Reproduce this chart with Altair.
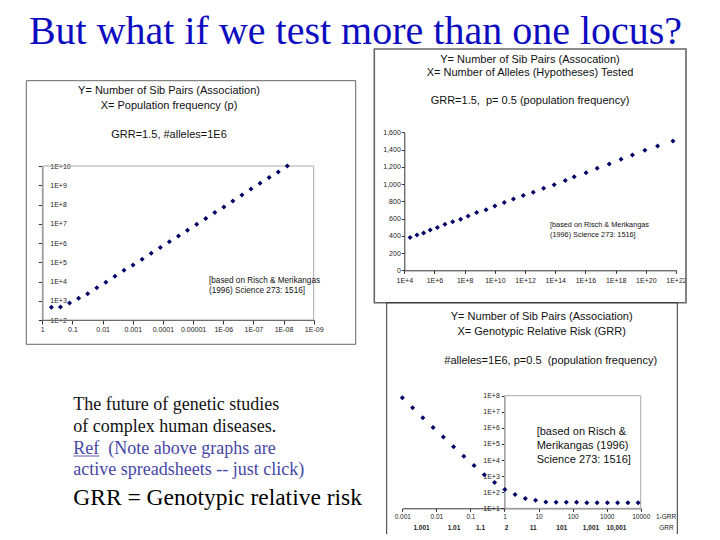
import json
import altair as alt
import pandas as pd

# ---------------- data ----------------
# Chart 1: sib pairs vs population frequency p (GRR=1.5, 1E6 alleles)
c1_p = [0.5, 0.25, 0.125, 0.0625, 0.03125, 0.0156, 0.0078, 0.0039, 0.00195, 0.00098,
        0.00049, 0.000244, 0.000122, 6.1e-5, 3.05e-5, 1.53e-5, 7.6e-6, 3.8e-6, 1.9e-6,
        9.5e-7, 4.8e-7, 2.4e-7, 1.2e-7, 6.0e-8, 3.0e-8, 1.5e-8, 7.5e-9]
c1_pairs = [455, 470, 765, 1340, 2340, 4800, 9100, 18700, 38000, 72000, 142000, 290000,
            590000, 1.17e6, 2.3e6, 4.6e6, 9.3e6, 1.9e7, 3.8e7, 7.5e7, 1.5e8, 3.1e8,
            6.4e8, 1.26e9, 2.5e9, 4.9e9, 1.0e10]
c1_xticks = [1, 0.1, 0.01, 0.001, 0.0001, 0.00001, 1e-6, 1e-7, 1e-8, 1e-9]
c1_xlabels = ["1", "0.1", "0.01", "0.001", "0.0001", "0.00001", "1E-06", "1E-07", "1E-08", "1E-09"]
c1_yticks = [1e2, 1e3, 1e4, 1e5, 1e6, 1e7, 1e8, 1e9, 1e10]
c1_ylabels = ["1E+2", "1E+3", "1E+4", "1E+5", "1E+6", "1E+7", "1E+8", "1E+9", "1E+10"]

# Chart 2: sib pairs vs number of alleles tested (GRR=1.5, p=0.5)
c2_alleles = [2.4e4, 6.9e4, 1.9e5, 5.2e5, 1.55e6, 4.9e6, 1.6e7, 5.4e7, 1.7e8, 6.2e8,
              2.6e9, 1.0e10, 4.2e10, 1.7e11, 7.6e11, 3.5e12, 1.7e13, 8.5e13, 4.6e14,
              1.8e15, 1.1e16, 6.0e16, 3.8e17, 2.3e18, 1.3e19, 8.7e19, 6.0e20, 6.3e21]
c2_pairs = [379, 410, 433, 468, 495, 533, 564, 591, 630, 669, 703, 746, 785, 827, 866,
            904, 951, 993, 1040, 1086, 1132, 1183, 1233, 1287, 1337, 1391, 1442, 1500]
c2_xticks = [1e4, 1e6, 1e8, 1e10, 1e12, 1e14, 1e16, 1e18, 1e20, 1e22]
c2_xlabels = ["1E+4", "1E+6", "1E+8", "1E+10", "1E+12", "1E+14", "1E+16", "1E+18", "1E+20", "1E+22"]
c2_yticks = [0, 200, 400, 600, 800, 1000, 1200, 1400, 1600]
c2_ylabels = ["0", "200", "400", "600", "800", "1,000", "1,200", "1,400", "1,600"]

# Chart 3: sib pairs vs GRR-1 (1E6 alleles, p=0.5)
c3_grr1 = [0.001, 0.002, 0.004, 0.008, 0.016, 0.032, 0.064, 0.128, 0.256, 0.512, 1.024,
           2.048, 4.096, 8.19, 16.4, 32.8, 65.5, 131, 262, 524, 1049, 2097, 4194, 8389]
c3_pairs = [7.5e7, 1.79e7, 4.3e6, 1.07e6, 2.7e5, 6.8e4, 1.7e4, 4500, 1240, 395, 145, 71,
            40, 32, 25, 24, 24, 24, 22, 22, 22, 22, 22, 22]
c3_xticks = [0.001, 0.01, 0.1, 1, 10, 100, 1000, 10000]
c3_xlabels = ["0.001", "0.01", "0.1", "1", "10", "100", "1000", "10000"]
c3_yticks = [1e1, 1e2, 1e3, 1e4, 1e5, 1e6, 1e7, 1e8]
c3_ylabels = ["1E+1", "1E+2", "1E+3", "1E+4", "1E+5", "1E+6", "1E+7", "1E+8"]
c3_grr_labels = ["1.001", "1.01", "1.1", "2", "11", "101", "1,001", "10,001"]
c3_grr_at = [0.00367, 0.033, 0.198, 1.16, 7.0, 47.9, 347, 1950]

# ---------------- layout ----------------
W, H = 704, 526
SANS = "Liberation Sans"
SERIF = "Liberation Serif"
PT = "#000066"
NB = "\u00a0"
one = pd.DataFrame({"k": [0]})


def lab_expr(labels, e0, step):
    return f"{json.dumps(labels)}[round((round(log(datum.value)/LN10) - ({e0}))/({step}))]"


def txt(s, x, y, size=11, font=SANS, color="#111111", align="center",
        baseline="middle", weight="normal", lh=None):
    kw = dict(text=s, font=font, fontSize=size, color=color, align=align,
              baseline=baseline, fontWeight=weight)
    if lh is not None:
        kw["lineHeight"] = lh
    return alt.Chart(one).mark_text(**kw).encode(x=alt.value(x), y=alt.value(y))


def box(x0, y0, x1, y1, color="#555555", w=1):
    return alt.Chart(one).mark_rect(fillOpacity=0, stroke=color, strokeWidth=w).encode(
        x=alt.value(x0), x2=alt.value(x1), y=alt.value(y0), y2=alt.value(y1))


def pts(df, xe, ye):
    return alt.Chart(df).mark_point(shape="diamond", filled=True, size=25,
                                    color=PT, opacity=1).encode(x=xe, y=ye)


AX = dict(title=None, labelOverlap=False, labelBound=False, labelFlush=False)

# ---- chart 1 ----
x1 = alt.X("x:Q", scale=alt.Scale(type="log", domain=[1e-9, 1], range=[305.7, 34.3]),
           axis=alt.Axis(orient="bottom", offset=312 - H, values=c1_xticks,
                         labelExpr=lab_expr(c1_xlabels, 0, -1), tickSize=4,
                         labelPadding=1, **AX))
y1 = alt.Y("y:Q", scale=alt.Scale(type="log", domain=[1e2, 1e10], range=[312, 158]),
           axis=alt.Axis(orient="left", offset=-34.3, values=c1_yticks,
                         labelExpr=lab_expr(c1_ylabels, 2, 1), tickSize=4,
                         labelAlign="left", labelPadding=-11.5, **AX))
df1 = pd.DataFrame({"x": c1_p, "y": c1_pairs})
frame1 = alt.Chart(pd.DataFrame({"x": [1.0], "x2": [1e-9], "y": [1e2], "y2": [1e10]})).mark_rect(
    fillOpacity=0, stroke="#a8a8a8", strokeWidth=1).encode(x=x1, x2="x2:Q", y=y1, y2="y2:Q")
c1 = alt.layer(frame1, pts(df1, x1, y1))

# ---- chart 2 ----
x2 = alt.X("x:Q", scale=alt.Scale(type="log", domain=[1e4, 1e22], range=[396.3, 668]),
           axis=alt.Axis(orient="bottom", offset=262.3 - H, values=c2_xticks,
                         labelExpr=lab_expr(c2_xlabels, 4, 2), tickSize=3,
                         labelPadding=3, **AX))
y2 = alt.Y("y:Q", scale=alt.Scale(type="linear", domain=[0, 1600], range=[262.3, 124.3]),
           axis=alt.Axis(orient="left", offset=-396.3, values=c2_yticks,
                         labelExpr=f"{json.dumps(c2_ylabels)}[round(datum.value/200)]",
                         tickSize=3, labelPadding=1, **AX))
df2 = pd.DataFrame({"x": c2_alleles, "y": c2_pairs})
c2 = pts(df2, x2, y2)

# ---- chart 3 ----
x3 = alt.X("x:Q", scale=alt.Scale(type="log", domain=[1e-3, 1e4], range=[394.3, 632.7]),
           axis=alt.Axis(orient="bottom", offset=500.3 - H, values=c3_xticks,
                         labelExpr=lab_expr(c3_xlabels, -3, 1), tickSize=3,
                         labelPadding=2.5, labelFontSize=6.5, **AX))
y3 = alt.Y("y:Q", scale=alt.Scale(type="log", domain=[1e1, 1e8], range=[500.3, 387.7]),
           axis=alt.Axis(orient="left", offset=-496.3, values=c3_yticks,
                         labelExpr=lab_expr(c3_ylabels, 1, 1), tickSize=3,
                         labelPadding=2, **AX))
df3 = pd.DataFrame({"x": c3_grr1, "y": c3_pairs})
frame3 = alt.Chart(pd.DataFrame({"x": [1.0], "x2": [1e4], "y": [1e1], "y2": [1e8]})).mark_rect(
    fillOpacity=0, stroke="#a8a8a8", strokeWidth=1).encode(x=x3, x2="x2:Q", y=y3, y2="y2:Q")
grr_row = alt.Chart(pd.DataFrame({"x": c3_grr_at, "t": c3_grr_labels})).mark_text(
    font=SANS, fontSize=6.5, fontWeight="bold", color="#222222", baseline="middle").encode(
    x=x3, y=alt.value(520), text="t:N")
c3 = alt.layer(frame3, pts(df3, x3, y3), grr_row)

# ---- decorations & texts ----
layers = [
    box(18.3, 72.7, 347.7, 336.3, "#666666", 1),
    box(366.3, 41, 678, 294.7, "#666666", 1.6),
    box(378.7, 294.7, 669.3, 540, "#333333", 1),
    c1, c2, c3,
    txt("But what if we test more than one locus?", 347.5, 36, size=40, font=SERIF,
        color="#0c0cc0", baseline="alphabetic"),
    # chart 1 titles
    txt("Y= Number of Sib Pairs (Association)", 161, 82.7),
    txt("X= Population frequency (p)", 161, 97.7),
    txt("GRR=1.5, #alleles=1E6", 161, 127),
    txt(["[based on Risch & Merikangas", "(1996) Science 273: 1516]"], 201, 268.5, size=8.2,
        align="left", baseline="top", lh=10.5),
    # chart 2 titles
    txt("Y= Number of Sib Pairs (Assocation)", 522, 52),
    txt("X= Number of Alleles (Hypotheses) Tested", 522, 65.3),
    txt(f"GRR=1.5,{NB} p= 0.5 (population frequency)", 522, 93),
    txt(["[based on Risch & Merikangas", "(1996) Science 273: 1516]"], 542, 212.5, size=7.3,
        align="left", baseline="top", lh=10.7),
    # chart 3 titles
    txt("Y= Number of Sib Pairs (Association)", 533.7, 308.7),
    txt("X= Genotypic Relative Risk (GRR)", 533.7, 323.7),
    txt(f"#alleles=1E6, p=0.5 {NB}(population frequency)", 542.7, 353),
    txt(["[based on Risch &", "Merikangas (1996)", "Science 273: 1516]"], 528.7, 417.5,
        size=11, align="left", baseline="top", lh=14.4),
    txt("1-GRR", 658, 509, size=6.5, color="#222222"),
    txt("GRR", 658.5, 520, size=6.5, color="#222222"),
    # left text block
    txt("The future of genetic studies", 65.3, 397, size=18, font=SERIF, align="left"),
    txt("of complex human diseases.", 65.3, 418.7, size=18, font=SERIF, align="left"),
    txt(f"Ref{NB}{NB}(Note above graphs are", 65.3, 441, size=18, font=SERIF, align="left",
        color="#4646a6"),
    txt("active spreadsheets -- just click)", 65.3, 462, size=18, font=SERIF, align="left",
        color="#4646a6"),
    alt.Chart(one).mark_rule(color="#5a5ab0", strokeWidth=1).encode(
        x=alt.value(65.3), x2=alt.value(91.3), y=alt.value(448)),
    txt("GRR = Genotypic relative risk", 65.3, 490.3, size=23.5, font=SERIF, align="left",
        color="#000000"),
]

chart = alt.layer(*layers).resolve_scale(x="independent", y="independent").properties(
    width=W, height=H, autosize=alt.AutoSizeParams(type="none"), padding=0,
    background="white"
).configure_view(strokeWidth=0).configure_axis(
    labelFont=SANS, labelFontSize=7, labelColor="#222222", domainColor="#333333",
    tickColor="#333333", grid=False, zindex=1)

chart.save("out.html", embed_options={"renderer": "svg", "actions": False})
